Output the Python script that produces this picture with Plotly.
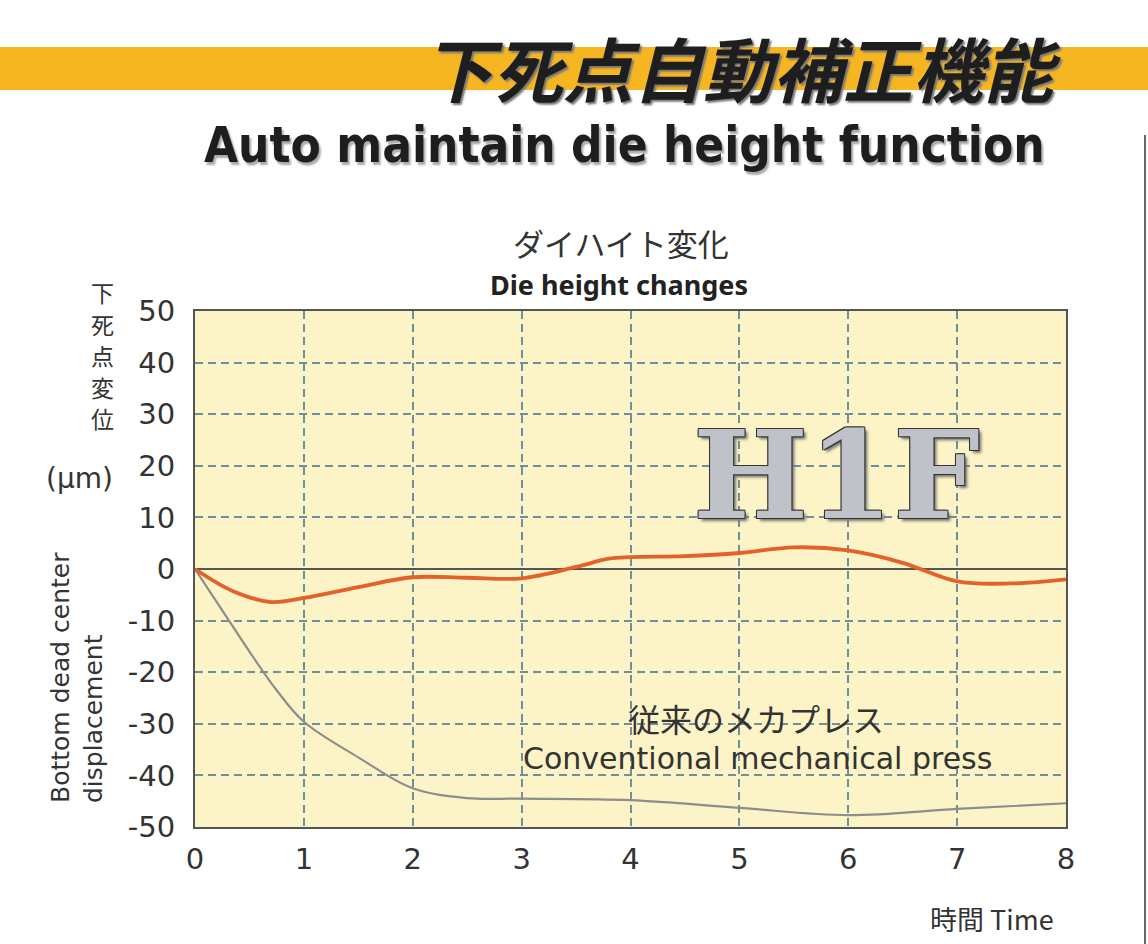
import plotly.graph_objects as go

# ---- data ----
time_h1f = [0, 0.35, 0.7, 1.0, 1.5, 2.0, 2.5, 3.0, 3.5, 3.8, 4.0, 4.5, 5.0, 5.5, 6.0, 6.5, 7.0, 7.5, 8.0]
disp_h1f = [0, -4.3, -6.4, -5.6, -3.5, -1.6, -1.7, -1.8, 0.4, 2.0, 2.3, 2.5, 3.1, 4.2, 3.6, 1.2, -2.4, -2.8, -2.0]
time_conv = [0, 0.25, 0.5, 0.75, 1.0, 1.5, 2.0, 2.5, 3.0, 4.0, 5.0, 6.0, 7.0, 8.0]
disp_conv = [0, -8, -16, -23.5, -29.6, -36.5, -42.5, -44.4, -44.5, -44.8, -46.3, -47.7, -46.5, -45.4]
x_ticks = [0, 1, 2, 3, 4, 5, 6, 7, 8]
y_ticks = [-50, -40, -30, -20, -10, 0, 10, 20, 30, 40, 50]
y_tick_text = ["-50", "-40", "-30", "-20", "-10", "0", "10", "20", "30", "40", "50"]
y_title_jp = ["下", "死", "点", "変", "位"]

W, H = 1148, 944
L, R, T, B = 195, 1066, 311, 827


def px(x):
    return (x - L) / (R - L)


def py(y):
    return (B - y) / (B - T)


LAT = "DejaVu Sans"
JP = "Noto Sans CJK JP"
TXT = "#333333"

fig = go.Figure()
fig.add_trace(go.Scatter(x=time_conv, y=disp_conv, mode="lines",
                         line=dict(color="#8d8d8d", width=2.2, shape="spline"),
                         name="Conventional mechanical press", showlegend=False))
fig.add_trace(go.Scatter(x=time_h1f, y=disp_h1f, mode="lines",
                         line=dict(color="#e4612b", width=3.8, shape="spline"),
                         name="H1F", showlegend=False))

shapes = [
    dict(type="rect", xref="paper", yref="paper", x0=px(0), x1=px(W), y0=py(90), y1=py(47),
         fillcolor="#f5b622", line=dict(width=0), layer="below"),
    dict(type="line", xref="paper", yref="paper", x0=px(1145), x1=px(1145), y0=py(135), y1=py(944),
         line=dict(color="#666666", width=2)),
]

ann = []


def add(text, x, y, size, family=LAT, color=TXT, **kw):
    ann.append(dict(text=text, x=px(x), y=py(y), xref="paper", yref="paper", showarrow=False,
                    xanchor="center", yanchor="middle",
                    font=dict(size=size, family=family, color=color,
                              weight=kw.pop("weight", "normal"), style=kw.pop("style", "normal"),
                              shadow=kw.pop("shadow", "none")), **kw))


add("下死点自動補正機能", 742, 66, 70, family=JP, color="#1e1e1e", weight="bold", style="italic",
    shadow="2px 2px 2px #777")
add("Auto maintain die height function", 624, 145, 49,
    family="Liberation Sans Narrow, DejaVu Sans Condensed, Roboto Condensed, Roboto, sans-serif",
    color="#1e1e1e", weight="bold", shadow="2px 3px 2px #aaa")
add("ダイハイト変化", 621, 242, 31, family=JP)
add("Die height changes", 619, 285, 27, family="Noto Sans", weight="bold", color="#222")
add("Bottom dead center<br>displacement", 77, 678, 25, textangle=-90, align="left")
for i, ch in enumerate(y_title_jp):
    add(ch, 102, 292 + i * 31.5, 23, family=JP)
add("(μm)", 79, 478, 28)
add("H1F", 836, 475, 122, family="DejaVu Serif", color="#bfc3c9", weight="bold",
    shadow="1px 1px 0 #333, -1px -1px 0 #333, 1px -1px 0 #333, -1px 1px 0 #333, 3px 3px 3px #777")
add("従来のメカプレス", 756, 718, 32, family=JP)
add("Conventional mechanical press", 757, 758, 30)
add("時間 Time", 992, 918, 27, family=JP)

fig.update_layout(
    width=W, height=H,
    margin=dict(l=L, r=W - R, t=T, b=H - B, pad=0),
    paper_bgcolor="white",
    plot_bgcolor="#fcf4c6",
    shapes=shapes,
    annotations=ann,
    showlegend=False,
)
fig.update_xaxes(range=[0, 8], tickvals=x_ticks, showgrid=True, gridcolor="#6e8f9c", gridwidth=1.5,
                 griddash="8px,5px", zeroline=False, showline=True, mirror=True, linecolor="#555",
                 linewidth=2, ticks="", tickfont=dict(family=LAT, size=29, color=TXT),
                 ticklabelstandoff=5)
fig.update_yaxes(range=[-50, 50], tickvals=y_ticks, ticktext=y_tick_text, showgrid=True,
                 gridcolor="#6e8f9c", gridwidth=1.5,
                 griddash="8px,5px", zeroline=True, zerolinecolor="#555", zerolinewidth=2,
                 showline=True, mirror=True, linecolor="#555", linewidth=2, ticks="",
                 tickfont=dict(family=LAT, size=29, color=TXT), ticklabelstandoff=12)

fig.write_html("out.html", config={"displayModeBar": False},
               post_script="document.body.style.margin='0';")
